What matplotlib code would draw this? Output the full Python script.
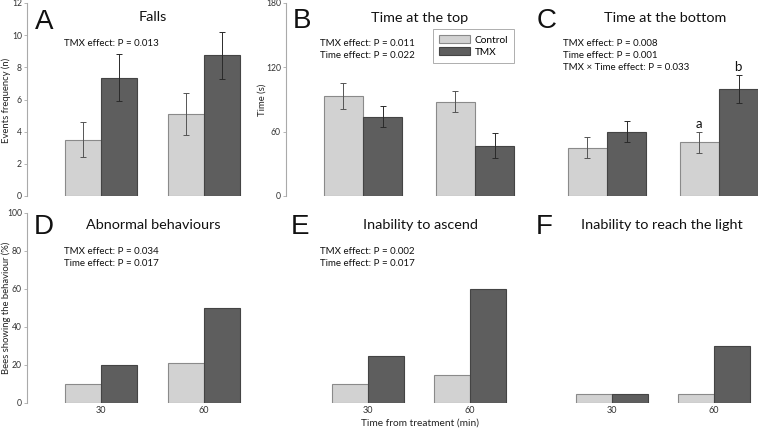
import numpy as np
import matplotlib.pyplot as plt
from matplotlib.patches import Patch

W, H = 758, 428
plt.rcParams['font.family'] = ['Lato', 'DejaVu Sans']

times = ['30', '60']
groups = ['Control', 'TMX']

# A - falls (events, n)
falls_ctrl = [3.5, 5.1]
falls_ctrl_err = [1.1, 1.3]
falls_tmx = [7.35, 8.75]
falls_tmx_err = [1.45, 1.45]

# B - time at the top (s)
top_ctrl = [93, 88]
top_ctrl_err = [12, 10]
top_tmx = [74, 47]
top_tmx_err = [10, 12]

# C - time at the bottom (s)
bottom_ctrl = [45, 50]
bottom_ctrl_err = [10, 10]
bottom_tmx = [60, 100]
bottom_tmx_err = [10, 13]

# D, E, F - bees showing the behaviour (%)
abnormal_ctrl = [10, 21]
abnormal_tmx = [20, 50]
ascend_ctrl = [10, 15]
ascend_tmx = [25, 60]
light_ctrl = [5, 5]
light_tmx = [5, 30]

C_LIGHT = '#d2d2d2'
C_DARK = '#5e5e5e'
E_LIGHT = '#8a8a8a'
E_DARK = '#444444'
BW = 0.35

fig = plt.figure(figsize=(W / 100, H / 100), dpi=100)


def px_axes(left, top, right, bottom):
    return fig.add_axes([left / W, 1 - bottom / H, (right - left) / W, (bottom - top) / H])


def ptext(x, y, s, **kw):
    kw.setdefault('va', 'center')
    fig.text(x / W, 1 - y / H, s, **kw)


def panel(ax, ctrl, tmx, ylim, yticks=None, ctrl_err=None, tmx_err=None, xlabels=False):
    x = np.arange(len(times))
    ax.bar(x - BW / 2, ctrl, BW, color=C_LIGHT, edgecolor=E_LIGHT, linewidth=0.8)
    ax.bar(x + BW / 2, tmx, BW, color=C_DARK, edgecolor=E_DARK, linewidth=0.8)
    if ctrl_err is not None:
        ax.errorbar(x - BW / 2, ctrl, yerr=ctrl_err, fmt='none', ecolor='#555555',
                    elinewidth=0.7, capsize=2.2, capthick=0.7)
        ax.errorbar(x + BW / 2, tmx, yerr=tmx_err, fmt='none', ecolor='#2a2a2a',
                    elinewidth=0.7, capsize=2.2, capthick=0.7)
    ax.set_ylim(*ylim)
    for s in ['top', 'right', 'bottom']:
        ax.spines[s].set_visible(False)
    if yticks is not None:
        ax.set_yticks(yticks)
        ax.spines['left'].set_color('#aaaaaa')
        ax.spines['left'].set_linewidth(0.8)
        ax.tick_params(axis='y', length=2.5, width=0.6, color='#aaaaaa',
                       labelsize=6.2, labelcolor='#333333', pad=1.2)
    else:
        ax.spines['left'].set_visible(False)
        ax.set_yticks([])
    if xlabels:
        ax.set_xticks(x)
        ax.set_xticklabels(times)
        ax.tick_params(axis='x', length=0, labelsize=6.5, labelcolor='#333333', pad=2)
    else:
        ax.set_xticks([])
    ax.patch.set_alpha(0)


axA = px_axes(27, 3, 250, 196)
panel(axA, falls_ctrl, falls_tmx, (0, 12), range(0, 13, 2), falls_ctrl_err, falls_tmx_err)
axA.set_xlim(-0.72, 1.45)

axB = px_axes(286, 3, 520, 196)
panel(axB, top_ctrl, top_tmx, (0, 180), [0, 60, 120, 180], top_ctrl_err, top_tmx_err)
axB.set_xlim(-0.6875, 1.402)

axC = px_axes(535, 3, 758, 196)
panel(axC, bottom_ctrl, bottom_tmx, (0, 180), None, bottom_ctrl_err, bottom_tmx_err)
axC.set_xlim(-0.643, 1.348)

axD = px_axes(27, 213, 250, 403)
panel(axD, abnormal_ctrl, abnormal_tmx, (0, 100), range(0, 101, 20), xlabels=True)
axD.set_xlim(-0.72, 1.45)

axE = px_axes(290, 213, 520, 403)
panel(axE, ascend_ctrl, ascend_tmx, (0, 100), None, xlabels=True)
axE.set_xlim(-0.765, 1.49)

axF = px_axes(540, 213, 758, 403)
panel(axF, light_ctrl, light_tmx, (0, 100), None, xlabels=True)
axF.set_xlim(-0.706, 1.431)

# panel letters and titles
letter_kw = dict(family=['Liberation Sans', 'DejaVu Sans'], fontsize=20, ha='center', color='#111111')
title_kw = dict(fontsize=10.4, ha='center', color='#111111')
note_kw = dict(fontsize=7.0, ha='left', color='#111111')

ptext(44, 22, 'A', **letter_kw)
ptext(153, 17, 'Falls', **title_kw)
ptext(64, 43, 'TMX effect: P = 0.013', **note_kw)

ptext(302, 21, 'B', **letter_kw)
ptext(420, 18, 'Time at the top', **title_kw)
ptext(320, 43, 'TMX effect: P = 0.011', **note_kw)
ptext(320, 55, 'Time effect: P = 0.022', **note_kw)

ptext(547, 21, 'C', **letter_kw)
ptext(665, 18, 'Time at the bottom', **title_kw)
ptext(563, 43, 'TMX effect: P = 0.008', **note_kw)
ptext(563, 55, 'Time effect: P = 0.001', **note_kw)
ptext(563, 67, 'TMX \u00d7 Time effect: P = 0.033', **note_kw)
ptext(699, 124, 'a', fontsize=9.5, ha='center', color='#111111')
ptext(738, 67, 'b', fontsize=9.5, ha='center', color='#111111')

ptext(44, 227, 'D', **letter_kw)
ptext(153, 225, 'Abnormal behaviours', **title_kw)
ptext(64, 252, 'TMX effect: P = 0.034', **note_kw)
ptext(64, 264, 'Time effect: P = 0.017', **note_kw)

ptext(300, 227, 'E', **letter_kw)
ptext(420, 225, 'Inability to ascend', **title_kw)
ptext(320, 252, 'TMX effect: P = 0.002', **note_kw)
ptext(320, 264, 'Time effect: P = 0.017', **note_kw)

ptext(544, 227, 'F', **letter_kw)
ptext(662, 225, 'Inability to reach the light', **title_kw)

# axis labels
ptext(6.5, 100, 'Events frequency (n)', fontsize=6.8, rotation=90, ha='center', color='#222222')
ptext(262, 100, 'Time (s)', fontsize=6.8, rotation=90, ha='center', color='#222222')
ptext(6.5, 308, 'Bees showing the behaviour (%)', fontsize=6.8, rotation=90, ha='center', color='#222222')
ptext(420, 423, 'Time from treatment (min)', fontsize=7.3, ha='center', color='#222222')

handles = [Patch(facecolor=C_LIGHT, edgecolor=E_LIGHT, linewidth=0.8, label=groups[0]),
           Patch(facecolor=C_DARK, edgecolor=E_DARK, linewidth=0.8, label=groups[1])]
leg = fig.legend(handles=handles, loc='upper left', bbox_to_anchor=(433 / W, 1 - 29 / H),
                 fontsize=7.3, frameon=True, fancybox=False, edgecolor='#999999',
                 handlelength=3.0, handleheight=0.9, handletextpad=0.5,
                 borderpad=0.6, labelspacing=0.2, borderaxespad=0)
leg.get_frame().set_linewidth(0.7)

fig.savefig('out.png', dpi=100)
